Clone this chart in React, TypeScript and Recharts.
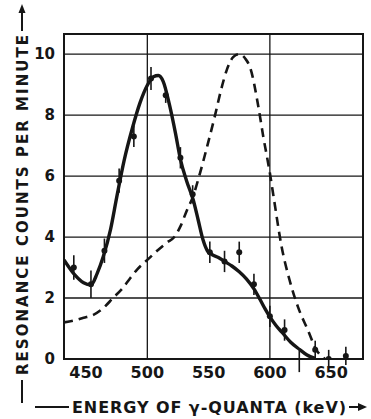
import { ComposedChart, Line, Scatter, ErrorBar, XAxis, YAxis, ReferenceLine, ReferenceArea } from 'recharts';

// measured points with vertical error bars (energy keV, counts/min, error)
const pointEnergy = [440, 454, 465, 477, 489, 503, 515, 527, 537, 551, 563, 575, 587, 600, 612, 624, 637, 648, 662];
const pointCounts = [3.0, 2.45, 3.55, 5.85, 7.3, 9.2, 8.65, 6.6, 5.4, 3.5, 3.2, 3.5, 2.45, 1.4, 0.95, -0.08, 0.3, 0.0, 0.1];
const pointError = [0.4, 0.45, 0.4, 0.4, 0.35, 0.38, 0.25, 0.35, 0.3, 0.35, 0.35, 0.35, 0.35, 0.35, 0.35, 0.35, 0.3, 0.3, 0.3];

// solid fitted curve
const solidEnergy = [432, 441, 448, 454, 459, 464, 470, 475, 481, 488, 494, 500, 505, 509, 513, 518, 523, 527, 532, 537.6, 541.5, 545.5, 549, 553, 558, 563, 569, 575, 581, 587, 592, 596, 600, 605, 610, 617, 624, 630, 637];
const solidCounts = [3.25, 2.75, 2.5, 2.43, 2.8, 3.35, 4.25, 5.3, 6.5, 7.6, 8.4, 8.98, 9.26, 9.3, 9.1, 8.35, 7.4, 6.55, 5.85, 5.2, 4.56, 3.9, 3.55, 3.42, 3.33, 3.2, 3.05, 2.86, 2.62, 2.3, 1.95, 1.65, 1.38, 1.1, 0.87, 0.55, 0.32, 0.14, 0.02];

// dashed curve
const dashEnergy = [432, 440, 448, 456, 464, 472, 480, 486, 492, 500, 508, 516, 522, 527, 532, 537, 543, 549, 555, 560, 565, 570, 575, 580, 584, 590.5, 594.6, 600, 603.5, 609.5, 616, 623, 631, 638, 645];
const dashCounts = [1.2, 1.26, 1.35, 1.45, 1.67, 2.0, 2.33, 2.65, 2.95, 3.25, 3.55, 3.82, 4.0, 4.35, 4.85, 5.3, 6.1, 7.0, 7.95, 8.8, 9.5, 9.9, 10.0, 9.85, 9.55, 8.3, 7.3, 6.1, 5.2, 3.7, 2.6, 1.7, 0.95, 0.3, 0.0];

const xTicks = [450, 500, 550, 600, 650];
const yTicks = [0, 2, 4, 6, 8, 10];
const xGrid = [500, 600];
const yGrid = [2, 4, 6, 8, 10];

const points = pointEnergy.map((e, i) => ({ e, v: pointCounts[i], err: pointError[i] }));
const solid = solidEnergy.map((e, i) => ({ e, v: solidCounts[i] }));
const dashed = dashEnergy.map((e, i) => ({ e, v: dashCounts[i] }));

const ink = '#161616';
const font = '"DejaVu Sans", sans-serif';

const YTitle = () => (
  <g>
    <text x={28} y={205} transform="rotate(-90, 28, 205)" textAnchor="middle" fontFamily={font} fontWeight="bold" fontSize={15} fill={ink} textLength={340} lengthAdjust="spacing">
      RESONANCE COUNTS PER MINUTE
    </text>
    <line x1={22} y1={380} x2={22} y2={403} stroke={ink} strokeWidth={2} />
    <line x1={22} y1={31} x2={22} y2={11} stroke={ink} strokeWidth={2} />
    <path d="M22,4 L18.5,13 L25.5,13 Z" fill={ink} />
  </g>
);

const XTitle = () => (
  <g>
    <line x1={35} y1={407} x2={69} y2={407} stroke={ink} strokeWidth={2} />
    <text x={72} y={413} fontFamily={font} fontWeight="bold" fontSize={16} fill={ink} textLength={274} lengthAdjust="spacing">
      ENERGY OF γ-QUANTA (keV)
    </text>
    <line x1={349} y1={407} x2={360} y2={407} stroke={ink} strokeWidth={2} />
    <path d="M367,407 L358,403 L358,411 Z" fill={ink} />
  </g>
);

const Dot = (props: any) => <circle cx={props.cx} cy={props.cy} r={3} fill={ink} />;

export default function App() {
  return (
    <div style={{ position: 'absolute', left: 0, top: 0, width: 371, height: 419, background: '#fff' }}>
      <ComposedChart width={371} height={419} margin={{ top: 34, right: 8, left: 0, bottom: 0 }}>
        <XAxis
          type="number"
          dataKey="e"
          domain={[432, 676]}
          ticks={xTicks}
          allowDataOverflow
          height={60}
          tickSize={0}
          tickMargin={8}
          axisLine={false}
          tick={{ fill: ink, fontFamily: font, fontWeight: 'bold', fontSize: 16 }}
          label={{ content: () => <XTitle /> }}
        />
        <YAxis
          type="number"
          domain={[0, 10.66]}
          ticks={yTicks}
          allowDataOverflow
          width={64}
          tickSize={0}
          tickMargin={9}
          axisLine={false}
          tick={{ fill: ink, fontFamily: font, fontWeight: 'bold', fontSize: 15 }}
          label={{ content: () => <YTitle /> }}
        />
        {yGrid.map((y) => (
          <ReferenceLine key={`y${y}`} y={y} stroke={ink} strokeWidth={1.3} />
        ))}
        {xGrid.map((x) => (
          <ReferenceLine key={`x${x}`} x={x} stroke={ink} strokeWidth={1.3} />
        ))}
        <ReferenceArea x1={432} x2={676} y1={0} y2={10.66} fill="none" stroke={ink} strokeWidth={2} />
        <Line data={dashed} dataKey="v" type="monotone" stroke={ink} strokeWidth={2.6} strokeDasharray="9 6" dot={false} isAnimationActive={false} />
        <Line data={solid} dataKey="v" type="monotone" stroke={ink} strokeWidth={3.4} dot={false} isAnimationActive={false} />
        <Scatter data={points} dataKey="v" shape={<Dot />} isAnimationActive={false}>
          <ErrorBar dataKey="err" direction="y" width={0} stroke={ink} strokeWidth={1.6} />
        </Scatter>
      </ComposedChart>
    </div>
  );
}
